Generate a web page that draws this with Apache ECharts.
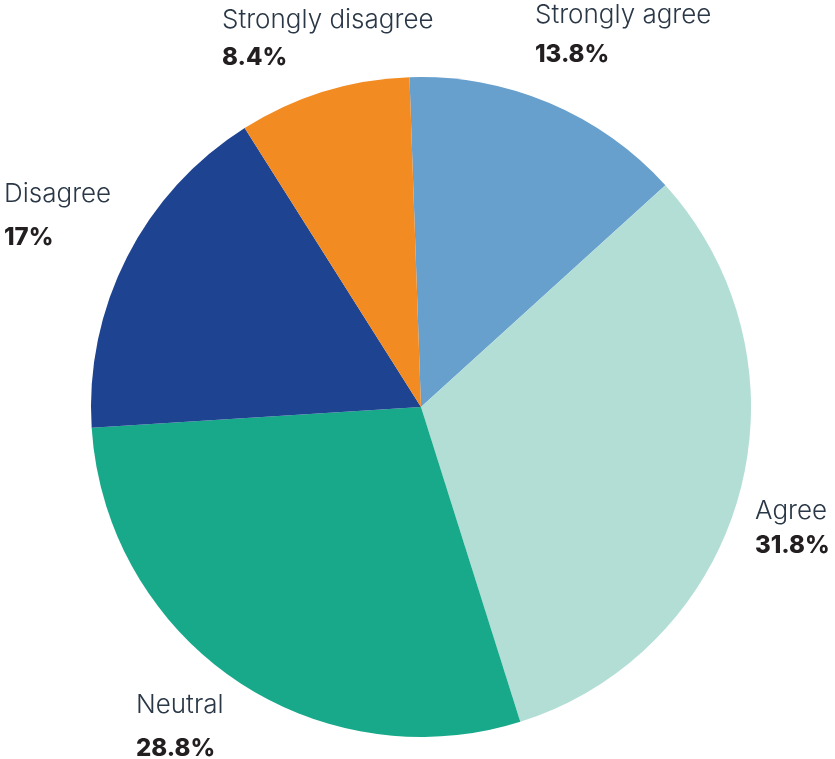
<!DOCTYPE html>
<html>
<head>
<meta charset="utf-8">
<script src="https://cdn.jsdelivr.net/npm/echarts@6/dist/echarts.min.js"></script>
<style>
  html, body { margin: 0; padding: 0; background: #ffffff; }
  #chart { width: 835px; height: 759px; }
</style>
</head>
<body>
<div id="chart"></div>
<script>
// Survey response shares, clockwise from the top
const categories = ['Strongly agree', 'Agree', 'Neutral', 'Disagree', 'Strongly disagree'];
const shares = [13.8, 31.8, 28.8, 17, 8.4];
const sliceColors = ['#679fcd', '#b3ded6', '#18a98a', '#1d4391', '#f18b22'];

// Caption placement: top-left corner of each text block, and the
// height given to its percentage line
const labelAnchors = [
  [535, 0.5],
  [755, 496.5],
  [136, 690.5],
  [4, 179.5],
  [222, 5.5]
];
const valueLineHeights = [48, 38, 56, 56, 44];

const nameStyle = { fontFamily: 'Inter', fontSize: 26, fontWeight: 300, color: '#2a3746', lineHeight: 30 };
const richStyles = { n: nameStyle };
valueLineHeights.forEach((h, i) => {
  richStyles['v' + i] = { fontFamily: 'Inter', fontSize: 24, fontWeight: 800, color: '#231f20', lineHeight: h };
});

const chart = echarts.init(document.getElementById('chart'), null, { renderer: 'canvas' });

chart.setOption({
  animation: false,
  backgroundColor: '#ffffff',
  series: [{
    type: 'pie',
    center: [421, 407],
    radius: [0, 330],
    startAngle: 92,
    clockwise: true,
    avoidLabelOverlap: false,
    itemStyle: { borderWidth: 0 },
    labelLine: { show: false },
    label: {
      show: true,
      position: 'outside',
      formatter: p => '{n|' + p.name + '}\n{v' + p.dataIndex + '|' + p.value + '%}',
      rich: richStyles
    },
    labelLayout: params => ({
      x: labelAnchors[params.dataIndex][0],
      y: labelAnchors[params.dataIndex][1],
      align: 'left',
      verticalAlign: 'top'
    }),
    data: categories.map((c, i) => ({
      name: c,
      value: shares[i],
      itemStyle: { color: sliceColors[i] }
    }))
  }]
});
</script>
</body>
</html>
